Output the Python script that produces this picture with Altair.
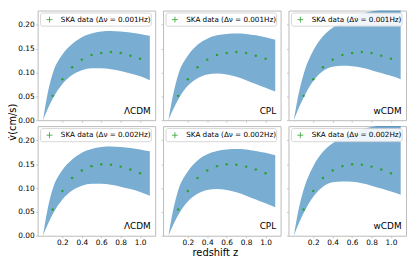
import altair as alt
import pandas as pd

# ---- data ----
z_band = [0.0, 0.05, 0.1, 0.2, 0.3, 0.4, 0.5, 0.6, 0.7, 0.8, 0.9, 1.0, 1.1]

lcdm_hi = [0.0, 0.058, 0.098, 0.138, 0.160, 0.174, 0.182, 0.186, 0.187, 0.186, 0.184, 0.181, 0.177]
lcdm_lo = [0.0, 0.024, 0.045, 0.076, 0.095, 0.105, 0.109, 0.109, 0.107, 0.103, 0.098, 0.092, 0.084]

cpl_hi = [0.0, 0.055, 0.095, 0.135, 0.158, 0.171, 0.178, 0.181, 0.182, 0.181, 0.178, 0.174, 0.169]
cpl_lo = [0.0, 0.023, 0.043, 0.072, 0.088, 0.096, 0.098, 0.096, 0.091, 0.084, 0.076, 0.068, 0.060]

wcdm_hi = [0.0, 0.056, 0.096, 0.146, 0.176, 0.194, 0.206, 0.216, 0.223, 0.228, 0.232, 0.235, 0.237]
wcdm_lo = [0.0, 0.025, 0.047, 0.082, 0.103, 0.112, 0.114, 0.113, 0.110, 0.105, 0.099, 0.093, 0.086]

z_data = [0.1, 0.2, 0.3, 0.4, 0.5, 0.6, 0.7, 0.8, 0.9, 1.0]
v_001 = [0.051, 0.086, 0.111, 0.127, 0.137, 0.141, 0.143, 0.141, 0.135, 0.129]
v_002 = [0.055, 0.094, 0.121, 0.137, 0.146, 0.150, 0.149, 0.145, 0.139, 0.131]

models = ["ΛCDM", "CPL", "wCDM"]
bands = [(lcdm_lo, lcdm_hi), (cpl_lo, cpl_hi), (wcdm_lo, wcdm_hi)]
row_values = [v_001, v_002]
legend_labels = ["SKA data (Δν = 0.001Hz)", "SKA data (Δν = 0.002Hz)"]
x_ticks = [0.2, 0.4, 0.6, 0.8, 1.0]
y_ticks = [0.0, 0.05, 0.10, 0.15, 0.20]

FONT = "DejaVu Sans"
W = 119
H = 111
BAND = "#1f77b4"
GREEN = "#2ca02c"
FRAME = "#bbbbbb"


def panel(row, col):
    lo, hi = bands[col]
    band_df = pd.DataFrame({"z": z_band, "lo": lo, "hi": hi})
    pts_df = pd.DataFrame({"z": z_data, "lo": row_values[row]})
    one = pd.DataFrame({"t": [legend_labels[row]], "m": [models[col]],
                        "ya": ["v\u0307(cm/s)"], "xa": ["redshift z"]})

    xscale = alt.Scale(domain=[-0.055, 1.155], nice=False, zero=False)
    yscale = alt.Scale(domain=[0, 0.23], nice=False, zero=False)
    xaxis = alt.Axis(values=x_ticks, format=".1f", labels=(row == 1), title=None,
                     grid=False, domain=False, tickSize=2, labelPadding=1)
    yaxis = alt.Axis(values=y_ticks, format=".2f", labels=(col == 0), title=None,
                     grid=False, domain=False, tickSize=2, labelPadding=1.5)

    area = alt.Chart(band_df).mark_area(
        color=BAND, opacity=0.6, interpolate="monotone", clip=True
    ).encode(
        x=alt.X("z:Q", scale=xscale, axis=xaxis),
        y=alt.Y("lo:Q", scale=yscale, axis=yaxis),
        y2="hi:Q",
    )
    pts = alt.Chart(pts_df).mark_circle(color=GREEN, size=6, opacity=1).encode(
        x=alt.X("z:Q", scale=xscale, axis=xaxis),
        y=alt.Y("lo:Q", scale=yscale, axis=yaxis),
    )
    box = alt.Chart(one).mark_rect(
        fill="white", fillOpacity=0.88, stroke="#cccccc", strokeWidth=0.8, cornerRadius=2
    ).encode(x=alt.value(3), x2=alt.value(W - 4), y=alt.value(2.5), y2=alt.value(15.8))
    hbar = alt.Chart(one).mark_rule(color=GREEN, strokeWidth=0.8).encode(
        x=alt.value(9), x2=alt.value(15), y=alt.value(9.2))
    vbar = alt.Chart(one).mark_rule(color=GREEN, strokeWidth=0.8).encode(
        x=alt.value(12), y=alt.value(6.2), y2=alt.value(12.2))
    ltxt = alt.Chart(one).mark_text(
        align="left", baseline="middle", fontSize=7.3, font=FONT, color="black"
    ).encode(x=alt.value(23.5), y=alt.value(9.4), text="t:N")
    mtxt = alt.Chart(one).mark_text(
        align="right", baseline="alphabetic", fontSize=9, font=FONT, color="black"
    ).encode(x=alt.value(W - 4.5), y=alt.value(H - 6.5), text="m:N")

    layers = [area, pts, box, hbar, vbar, ltxt, mtxt]
    if row == 0 and col == 0:
        ytitle = alt.Chart(one).mark_text(
            angle=270, align="center", baseline="middle", fontSize=10, font=FONT, color="black"
        ).encode(x=alt.value(-24.5), y=alt.value(H + 2), text="ya:N")
        layers.append(ytitle)
    if row == 1 and col == 1:
        xtitle = alt.Chart(one).mark_text(
            align="center", baseline="middle", fontSize=10, font=FONT, color="black"
        ).encode(x=alt.value(53), y=alt.value(H + 18), text="xa:N")
        layers.append(xtitle)
    return alt.layer(*layers).properties(width=W, height=H)


panels = [panel(r, c) for r in range(2) for c in range(3)]

chart = alt.concat(
    *panels, columns=3, spacing={"row": 6, "column": 8}, bounds="flush"
).properties(
    padding={"left": 0, "top": 0, "right": 0, "bottom": 0}
).configure_view(
    stroke=FRAME, strokeWidth=1
).configure_axis(
    labelFont=FONT, labelFontSize=7.5, labelColor="black", tickColor=FRAME, tickWidth=0.8
)

chart.save("out.html", embed_options={"renderer": "svg", "actions": False})
